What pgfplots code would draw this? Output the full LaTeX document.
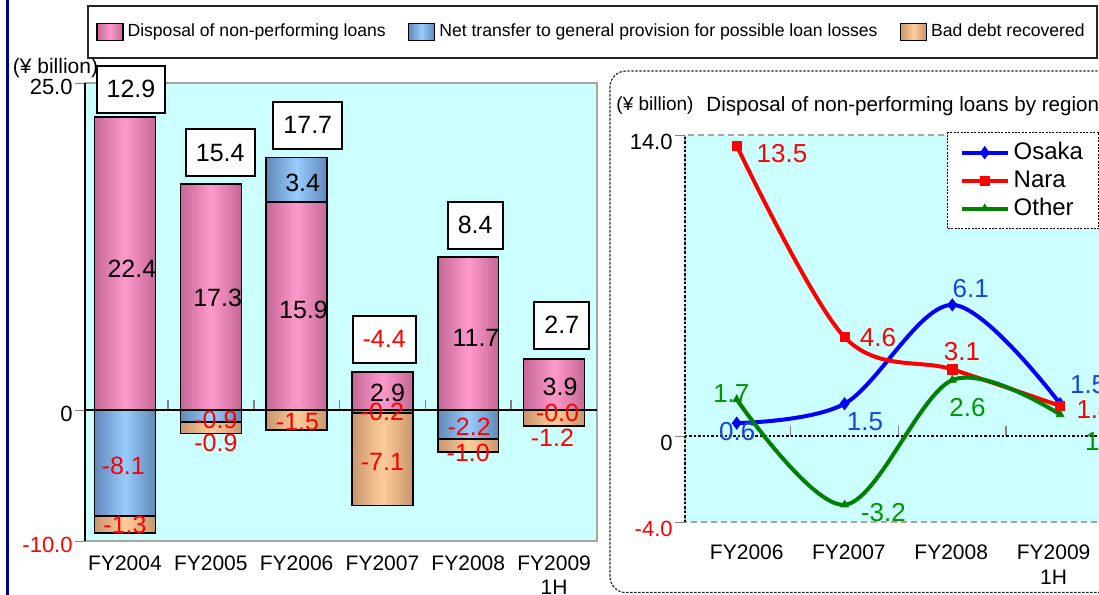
\documentclass[border=0pt]{standalone}
\usepackage{pgfplots}
\usepackage{pgfplotstable}
\pgfplotsset{compat=1.18}
\usepackage{fontspec}
\setmainfont{Liberation Sans}

\definecolor{bgcyan}{RGB}{204,255,255}
\definecolor{pinkD}{RGB}{196,104,150}
\definecolor{pinkL}{RGB}{255,153,204}
\definecolor{blueD}{RGB}{96,136,184}
\definecolor{blueL}{RGB}{153,204,255}
\definecolor{orD}{RGB}{200,150,110}
\definecolor{orL}{RGB}{255,204,153}
\definecolor{navyline}{RGB}{0,0,140}
\definecolor{osaka}{RGB}{0,0,255}
\definecolor{osakaLab}{RGB}{20,70,220}
\definecolor{nara}{RGB}{255,0,0}
\definecolor{other}{RGB}{0,128,0}
\definecolor{otherLab}{RGB}{0,150,0}

\newcommand\fs[2][1.1]{\fontsize{#2}{#1\dimexpr#2pt\relax}\selectfont}

% credit-cost components by fiscal year (¥ billion)
\pgfplotstableread{
x  pink  bpos  bneg  or
0  22.4  0     -8.1  -1.3
1  17.3  0     -0.9  -0.9
2  15.9  3.4   0     -1.5
3  2.9   0     -0.2  -7.1
4  11.7  0     -2.2  -1.0
5  3.9   0     -0.0  -1.2
}\bars

\pgfplotsset{
  leftgeom/.style={scale only axis, width=256pt, height=229pt,
    xmin=-0.466, xmax=5.5, ymin=-10, ymax=25,
    at={(42.5pt,27pt)}, anchor=south west, clip=false},
  rightgeom/.style={scale only axis, width=214.5pt, height=193.5pt,
    xmin=-0.48, xmax=3.5, ymin=-4, ymax=14,
    at={(342.5pt,36.5pt)}, anchor=south west, clip=false},
  swatch/.style={legend image code/.code={\draw[##1] (0pt,-4.25pt) rectangle (13pt,4.25pt);}},
  pinkbar/.style={draw=black, line width=0.75pt, left color=pinkD, right color=pinkD, middle color=pinkL, swatch},
  bluebar/.style={draw=black, line width=0.75pt, left color=blueD, right color=blueD, middle color=blueL, swatch},
  orangebar/.style={draw=black, line width=0.75pt, left color=orD, right color=orD, middle color=orL, swatch},
  onebar/.style={bar shift=0pt, forget plot, restrict x to domain=#1:#1},
  seglabels/.style={draw=none, nodes near coords, point meta=explicit symbolic,
    every node near coord/.append style={anchor=center, font=\fs{12.5}, text=#1, inner sep=0pt}},
  totlabels/.style={draw=none, nodes near coords, point meta=explicit symbolic,
    every node near coord/.append style={anchor=center, font=\fs{12.5}, text=#1,
      draw=black, fill=white, line width=1pt, minimum height=23.5pt, inner xsep=5pt}},
  reglabels/.style={draw=none, nodes near coords, point meta=explicit symbolic,
    every node near coord/.append style={anchor=center, font=\fs{13}, text=#1, inner sep=0pt}},
  regline/.style={color=#1, solid, line width=2pt, smooth, tension=0.55,
    mark options={solid, line width=0.4pt, fill=#1}},
}

\begin{document}
\begin{tikzpicture}
\useasboundingbox (0,0) rectangle (549.5pt,297.5pt);
\clip (0,0) rectangle (549.5pt,297.5pt);
\fill[navyline] (3pt,0) rectangle (4.6pt,297.5pt);

% ---------- left panel: positive parts, background, legend ----------
\begin{axis}[leftgeom, ybar, bar width=0.71,
  axis background/.style={fill=bgcyan},
  axis line style={gray!70, line width=0.6pt},
  ytick=\empty,
  xtick={0,...,5},
  xticklabels={FY2004,FY2005,FY2006,FY2007,FY2008,{FY2009\\1H}},
  xticklabel style={align=center, font=\fs[1.15]{10.5}, yshift=0.5pt},
  major x tick style={draw=none},
  legend columns=3,
  legend cell align=left,
  legend style={at={(0.004,1.17)}, anchor=north west, draw=black!85, line width=1pt,
    font=\fs{8.8}, inner xsep=4pt, inner ysep=7pt,
    /tikz/every even column/.append style={column sep=9pt}},
]
% each bar is its own path so that its shading runs across that bar only;
% the net-transfer part sits on top of the disposal part
\pgfplotsinvokeforeach{0,...,5}{
  \addplot[bluebar, onebar=#1] table[x=x, y expr=\thisrow{pink}+\thisrow{bpos}] {\bars};
  \addplot[pinkbar, onebar=#1] table[x=x, y=pink] {\bars};
}
\addlegendimage{pinkbar}
\addlegendentry{Disposal of non-performing loans}
\addlegendimage{bluebar}
\addlegendentry{Net transfer to general provision for possible loan losses}
\addlegendimage{orangebar}
\addlegendentry{Bad debt recovered}
\end{axis}

% ---------- left panel: negative parts and axis lines ----------
\begin{axis}[leftgeom, ybar, bar width=0.71,
  axis on top,
  axis x line=middle, axis y line=left,
  axis line style={-, black, line width=1pt},
  xtick={0.5,1.5,2.5,3.5,4.5}, xticklabels={},
  major x tick style={yshift=2.5pt, line width=0.8pt},
  xtick align=center,
  ytick={-10,0,25},
  yticklabels={\textcolor{red}{-10.0}\hspace{2.5pt}, 0\hspace{8pt}, 25.0},
  ytick align=outside, major tick length=5pt,
  yticklabel style={font=\fs{11}, yshift=-2pt, inner sep=1pt},
]
% bad debt recovered continues below the net transfer part
\pgfplotsinvokeforeach{0,...,5}{
  \addplot[orangebar, onebar=#1] table[x=x, y expr=\thisrow{bneg}+\thisrow{or}] {\bars};
  \addplot[bluebar, onebar=#1] table[x=x, y=bneg] {\bars};
}
\end{axis}

% ---------- left panel: value labels ----------
\begin{axis}[leftgeom, hide axis]
\addplot[seglabels=black] table[meta=lab] {
x     y      lab
0.08  10.84  22.4
1.08  8.55   17.3
2.08  7.63   15.9
2.07  17.33  3.4
3.06  1.30   2.9
4.09  5.50   11.7
5.07  1.76   3.9
};
\addplot[seglabels=red] table[meta=lab] {
x     y      lab
-0.02 -4.27  -8.1
0.00  -8.78  -1.3
1.06  -0.76  -0.9
1.06  -2.52  -0.9
2.01  -0.92  -1.5
3.00  -0.15  -0.2
3.00  -3.97  -7.1
4.01  -1.30  -2.2
4.00  -3.28  -1.0
5.04  -0.23  -0.0
4.98  -2.14  -1.2
};
\addplot[totlabels=black] table[meta=lab] {
x     y      lab
0.07  24.54  12.9
1.11  19.66  15.4
2.13  21.76  17.7
4.08  14.12  8.4
5.09  6.49   2.7
};
\addplot[totlabels=red] table[meta=lab] {
x     y      lab
3.02  5.42   -4.4
};
\end{axis}

\node[font=\fs{10.5}, inner sep=0pt] at (27.75pt,263.5pt) {(¥ billion)};

% ---------- right panel ----------
\draw[black!85, line width=0.6pt, dash pattern=on 1.2pt off 0.8pt, rounded corners=8pt]
  (305pt,1.2pt) rectangle (600pt,262pt);
\node[font=\fs{9.5}, inner sep=0pt] at (327.5pt,244.5pt) {(¥ billion)};
\node[font=\fs{10.3}, inner sep=0pt, anchor=west] at (353pt,244.5pt) {Disposal of non-performing loans by region};

\begin{axis}[rightgeom,
  axis background/.style={fill=bgcyan},
  axis line style={gray!70, densely dashed, line width=0.6pt},
  ytick=\empty,
  xtick={0.093,1.04,1.99,2.94},
  xticklabels={FY2006,FY2007,FY2008,{FY2009\\1H}},
  xticklabel style={align=center, font=\fs[1.2]{10.5}, yshift=-8pt},
  major x tick style={draw=none},
]
\end{axis}

\begin{axis}[rightgeom,
  axis x line=middle, axis y line=left,
  axis line style={-, black, densely dotted, line width=1.2pt},
  xtick={0.5,1.5,2.5}, xticklabels={},
  major x tick style={yshift=2.5pt, solid, line width=0.8pt},
  xtick align=center,
  ytick={-4,0,14},
  yticklabels={\textcolor{red}{-4.0}\hspace{3pt}, 0, 14.0},
  ytick align=outside, major tick length=5pt,
  major y tick style={solid},
  yticklabel style={font=\fs{11}, yshift=-3.5pt, inner sep=1pt},
  legend style={at={(0.611,1.008)}, anchor=north west, draw=black, fill=white,
    dash pattern=on 1pt off 0.7pt, line width=0.6pt,
    font=\fs{12}, inner xsep=6pt, inner ysep=3pt, row sep=0pt},
  legend cell align=left,
  legend image code/.code={\draw[mark repeat=2, mark phase=2, #1]
    plot coordinates {(0pt,0pt) (11.5pt,0pt) (23pt,0pt)};},
]
\addplot[regline=osaka, mark=diamond*, mark size=3pt]
  coordinates {(0,0.6) (1,1.5) (2,6.1) (3,1.5)};
\addlegendentry{Osaka}
\addplot[regline=nara, mark=square*, mark size=2.3pt]
  coordinates {(0,13.5) (1,4.6) (2,3.1) (3,1.4)};
\addlegendentry{Nara}
\addplot[regline=other, mark=triangle*, mark size=2.2pt]
  coordinates {(0,1.7) (1,-3.2) (2,2.6) (3,1.0)};
\addlegendentry{Other}

\addplot[reglabels=osakaLab, forget plot] table[meta=lab] {
x      y      lab
0.005  0.19   0.6
1.19   0.65   1.5
2.17   6.88   6.1
3.26   2.37   1.5
};
\addplot[reglabels=nara, forget plot] table[meta=lab] {
x      y      lab
0.42   13.16  13.5
1.31   4.56   4.6
2.09   3.91   3.1
3.32   1.21   1.4
};
\addplot[reglabels=otherLab, forget plot] table[meta=lab] {
x      y      lab
-0.05  1.995  1.7
1.36   -3.58  -3.2
2.14   1.30   2.6
3.40   -0.28  1.0
};
\end{axis}
\end{tikzpicture}
\end{document}
